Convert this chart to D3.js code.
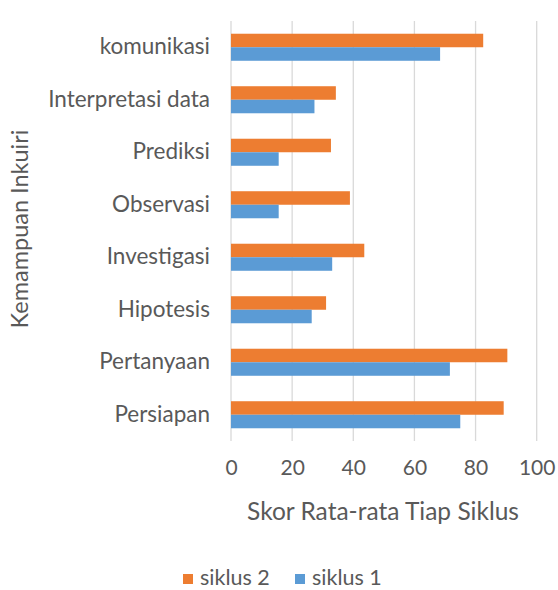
<!DOCTYPE html>
<html>
<head>
<meta charset="utf-8">
<script src="https://cdn.jsdelivr.net/npm/d3@7"></script>
<style>
  body { margin: 0; background: #fff; overflow: hidden; }
  svg { display: block; }
  svg text { font-family: Lato, "Open Sans", sans-serif; fill: #595959; }
</style>
</head>
<body>
<div id="chart"></div>
<script>
const categories = ["komunikasi", "Interpretasi data", "Prediksi", "Observasi",
  "Investigasi", "Hipotesis", "Pertanyaan", "Persiapan"];
const siklus2 = [82.5, 34.3, 32.7, 38.9, 43.6, 31.1, 90.4, 89.2];
const siklus1 = [68.4, 27.3, 15.6, 15.6, 33.1, 26.4, 71.6, 75.0];
const xTicks = [0, 20, 40, 60, 80, 100];
const seriesNames = ["siklus 2", "siklus 1"];
const colors = ["#ED7D31", "#5B9BD5"];

const width = 558, height = 590;
const margin = { top: 21, right: 21, bottom: 149, left: 231 };
const innerW = width - margin.left - margin.right;
const innerH = height - margin.top - margin.bottom;

const svg = d3.select("#chart").append("svg")
  .attr("width", width)
  .attr("height", height);

const chart = svg.append("g")
  .attr("transform", `translate(${margin.left},${margin.top})`);

const x = d3.scaleLinear().domain([0, 100]).range([0, 305.7]);
const y = d3.scaleBand().domain(categories).range([0, innerH]).paddingInner(0.485).paddingOuter(0.2425);
const ySub = d3.scaleBand().domain(seriesNames).range([0, y.bandwidth()]);

// gridlines
chart.append("g")
  .selectAll("line")
  .data(xTicks)
  .join("line")
  .attr("x1", d => x(d))
  .attr("x2", d => x(d))
  .attr("y1", 0)
  .attr("y2", innerH)
  .attr("stroke", "#d9d9d9")
  .attr("stroke-width", 1.3);

const data = categories.map((c, i) => ({ cat: c, values: [siklus2[i], siklus1[i]] }));

chart.append("g")
  .selectAll("g")
  .data(data)
  .join("g")
  .attr("transform", d => `translate(0,${y(d.cat)})`)
  .selectAll("rect")
  .data(d => d.values.map((v, j) => ({ key: seriesNames[j], v, j })))
  .join("rect")
  .attr("x", 0)
  .attr("y", d => ySub(d.key))
  .attr("width", d => x(d.v))
  .attr("height", ySub.bandwidth())
  .attr("fill", d => colors[d.j]);

// x axis
const xAxis = d3.axisBottom(x).tickValues(xTicks).tickSize(0).tickPadding(19);
chart.append("g")
  .attr("transform", `translate(0,${innerH})`)
  .call(xAxis)
  .call(g => g.select(".domain").remove())
  .selectAll("text")
  .style("font-size", "21px")
  .attr("fill", "#595959");

// y axis
const yAxis = d3.axisLeft(y).tickSize(0).tickPadding(21);
chart.append("g")
  .call(yAxis)
  .call(g => g.select(".domain").remove())
  .selectAll("text")
  .style("font-size", "22.5px")
  .attr("fill", "#595959");

// axis titles
svg.append("text")
  .attr("x", 383)
  .attr("y", 520)
  .attr("text-anchor", "middle")
  .style("font-size", "24.5px")
  .text("Skor Rata-rata Tiap Siklus");

svg.append("text")
  .attr("transform", "translate(28,229) rotate(-90)")
  .attr("text-anchor", "middle")
  .style("font-size", "23.5px")
  .text("Kemampuan Inkuiri");

// legend
const legend = svg.append("g").attr("transform", "translate(183,579)");
const legendX = [0, 112];
seriesNames.forEach((s, i) => {
  const g = legend.append("g").attr("transform", `translate(${legendX[i]},0)`);
  g.append("rect").attr("x", 0).attr("y", -5).attr("width", 10).attr("height", 10).attr("fill", colors[i]);
  g.append("text").attr("x", 17).attr("y", 6).style("font-size", "21.5px").text(s);
});
</script>
</body>
</html>
